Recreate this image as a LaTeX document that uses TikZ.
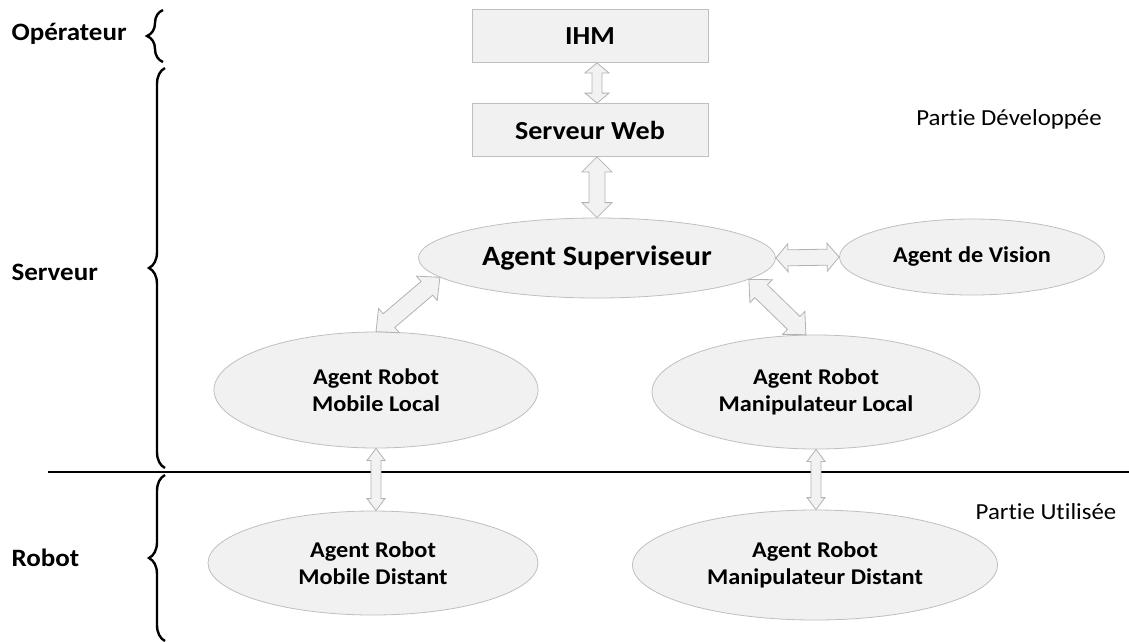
\documentclass[tikz,border=0pt]{standalone}
\usepackage{fontspec}
\setmainfont{Carlito}[FakeStretch=1.08, Ligatures=NoCommon]
\usetikzlibrary{calc,shapes.geometric,decorations.pathreplacing}

% double-headed block arrow between two named points:
% #2 from, #3 to, #4 half body width, #5 half head width, #6 head length
\newcommand\dblarrow[6][]{%
  \coordinate (ba1) at ($(#2)!#6!(#3)$);
  \coordinate (ba2) at ($(#3)!#6!(#2)$);
  \filldraw[link,#1] (#2)
    -- ($(ba1)!#5!90:(#3)$) -- ($(ba1)!#4!90:(#3)$)
    -- ($(ba2)!#4!-90:(#2)$) -- ($(ba2)!#5!-90:(#2)$)
    -- (#3)
    -- ($(ba2)!#5!90:(#2)$) -- ($(ba2)!#4!90:(#2)$)
    -- ($(ba1)!#4!-90:(#3)$) -- ($(ba1)!#5!-90:(#3)$)
    -- cycle;}

\tikzset{
  agent/.style={ellipse, fill=gray!11, draw=gray!50, line width=0.8pt,
    inner sep=0pt, align=center, font=\bfseries\fontsize{22.5}{27}\selectfont},
  box/.style={rectangle, fill=gray!11, draw=gray!50, line width=0.8pt,
    minimum width=236pt, minimum height=53pt,
    font=\bfseries\fontsize{26}{30}\selectfont},
  layer/.style={anchor=west, font=\bfseries\fontsize{25}{29}\selectfont},
  part/.style={font=\fontsize{23}{27}\selectfont},
  link/.style={fill=gray!10, draw=gray!60, line width=0.8pt, line join=miter},
  bracket/.style={decorate, decoration={brace, amplitude=16pt}, line width=2.4pt},
}

\begin{document}
\begin{tikzpicture}[x=1pt,y=-1pt]
\useasboundingbox (0,0) rectangle (1129,641);

% layer labels and braces
\node[layer] (lop) at (8,34) {Opérateur};
\node[layer] (lsrv) at (8,272) {Serveur};
\node[layer] (lrob) at (8,558) {Robot};
\draw[bracket] (163,62) -- (163,10);
\draw[bracket] (165,468) -- (165,68);
\draw[bracket] (165,641) -- (165,475);

% separation between server side and robot side
\draw[line width=2.4pt] (48,472) -- (1129,472);

\node[part] (pdev) at (1009,119) {Partie Développée};
\node[part] (puse) at (1046,512) {Partie Utilisée};

% components
\node[box] (ihm) at (590,36) {IHM};
\node[box] (web) at (590,130) {Serveur Web};
\node[agent, minimum width=357pt, minimum height=80pt,
  font=\bfseries\fontsize{28}{32}\selectfont] (sup) at (597,258) {\raisebox{3pt}{Agent Superviseur}};
\node[agent, minimum width=265pt, minimum height=76pt] (vis) at (972,257) {Agent de Vision};
\node[agent, minimum width=324pt, minimum height=116pt] (mloc) at (376,390) {Agent Robot\\Mobile Local};
\node[agent, minimum width=328pt, minimum height=114pt] (mnloc) at (816,392) {Agent Robot\\Manipulateur Local};
\node[agent, minimum width=330pt, minimum height=104pt] (mdist) at (373,563) {Agent Robot\\Mobile Distant};
\node[agent, minimum width=365pt, minimum height=110pt] (mndist) at (815,565) {Agent Robot\\Manipulateur Distant};

% links
\coordinate (c1) at (ihm.south -| sup.north);
\coordinate (c2) at (web.north -| sup.north);
\coordinate (c3) at (web.south -| sup.north);
\coordinate (c4) at (mloc.south |- mdist.north);
\coordinate (c5) at (mnloc.south |- mndist.north);
\dblarrow{c1}{c2}{5pt}{12pt}{10pt}
\dblarrow{c3}{sup.north}{8pt}{15pt}{15pt}
\dblarrow{sup.east}{vis.west}{8pt}{14pt}{12pt}
\dblarrow{sup.187}{mloc.north}{9pt}{16pt}{17pt}
\dblarrow{sup.-8.5}{mnloc.100}{9pt}{16pt}{17pt}
\dblarrow{mloc.south}{c4}{5pt}{9pt}{12pt}
\dblarrow{mnloc.south}{c5}{5pt}{9pt}{12pt}
\end{tikzpicture}
\end{document}
